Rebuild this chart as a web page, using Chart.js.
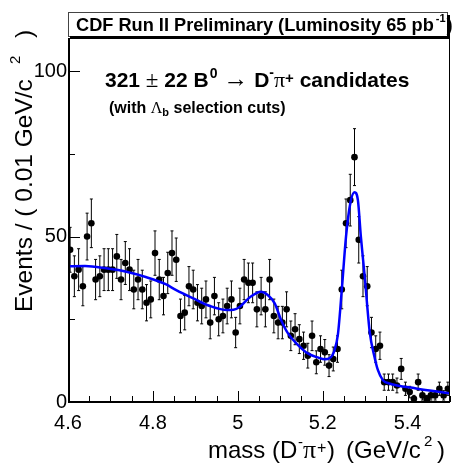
<!DOCTYPE html>
<html>
<head>
<meta charset="utf-8">
<script src="https://cdn.jsdelivr.net/npm/chart.js@4.4.0/dist/chart.umd.min.js"></script>
<style>
  html, body { margin: 0; padding: 0; background: #fff; }
</style>
</head>
<body>
<canvas id="myChart" width="455" height="465"></canvas>
<script>
// D-pi+ invariant mass histogram, 0.01 GeV/c^2 bins from 4.6 to 5.5
const massMin = 4.6;
const massMax = 5.5;
const binWidth = 0.01;
const counts = [
  46, 38, 40, 35, 50, 54, 37, 38, 40, 40,
  40, 44, 37, 42, 40, 34, 37, 34, 30, 31,
  45, 37, 32, 39, 45, 43, 26, 27, 35, 34,
  30, 29, 31, 24, 32, 25, 26, 29, 31, 21,
  29, 37, 36, 36, 28, 32, 28, 37, 26, 24,
  24, 28, 20, 22, 19, 17, 14, 20, 12, 16,
  15, 11, 13, 16, 34, 54, 61, 74, 49, 38,
  35, 21, 16, 17, 6, 6, 6, 5, 10, 4,
  3, 1, 6, 2, 1, 2, 2, 4, 2, 4
];

// fit curve
const fitMass = [4.600, 4.640, 4.690, 4.740, 4.785, 4.830, 4.855, 4.895, 4.935, 4.975,
  4.990, 5.005, 5.030, 5.055, 5.070, 5.087, 5.102, 5.118, 5.142, 5.165,
  5.190, 5.205, 5.216, 5.228, 5.236, 5.245, 5.255, 5.265, 5.275, 5.283,
  5.290, 5.299, 5.311, 5.322, 5.330, 5.342, 5.357, 5.420, 5.500];
const fitEvents = [41.0, 41.1, 40.4, 39.3, 37.7, 35.6, 33.8, 31.3, 29.0, 27.8,
  27.9, 28.8, 31.8, 33.3, 32.4, 29.8, 24.8, 20.8, 17.2, 14.7,
  13.4, 12.9, 13.2, 15.7, 20.5, 33.8, 50.0, 60.0, 63.4, 61.0,
  50.0, 38.0, 21.0, 13.7, 9.7, 6.6, 5.6, 4.1, 2.6];

const xTickLabels = [4.6, 4.8, 5, 5.2, 5.4];
const yTickLabels = [0, 50, 100];

const SANS = '"Liberation Sans", Arial, Helvetica, sans-serif';
const SERIF = '"Liberation Serif", "Times New Roman", serif';

let histPoints = counts.map((n, i) => ({ x: massMin + binWidth * (i + 0.5), y: n }));
let fitPoints = fitMass.map((m, i) => ({ x: m, y: fitEvents[i] }));

// draws a run of text pieces (for super/subscripts), returns end x
// a piece with "at" is placed at that offset from the start instead of after the previous one
function drawParts(ctx, x, y, parts) {
  let cx = x;
  parts.forEach(p => {
    ctx.font = p.font;
    if (p.at !== undefined) cx = x + p.at;
    cx += p.dx || 0;
    ctx.fillText(p.t, cx, y + (p.dy || 0));
    cx += ctx.measureText(p.t).width;
  });
  return cx;
}

const decor = {
  id: 'decor',
  beforeDatasetsDraw(chart) {
    // poisson error bars on the data points
    const ctx = chart.ctx;
    const xs = chart.scales.x, ys = chart.scales.y;
    ctx.save();
    ctx.strokeStyle = '#000';
    ctx.lineWidth = 1;
    histPoints.forEach(p => {
      const err = Math.sqrt(p.y);
      const px = xs.getPixelForValue(p.x);
      const top = ys.getPixelForValue(p.y + err);
      const bot = ys.getPixelForValue(Math.max(p.y - err, 0));
      ctx.beginPath();
      ctx.moveTo(px, top); ctx.lineTo(px, bot);
      ctx.moveTo(px - 1.5, top); ctx.lineTo(px + 1.5, top);
      ctx.moveTo(px - 1.5, bot); ctx.lineTo(px + 1.5, bot);
      ctx.stroke();
    });
    ctx.restore();
  },
  afterDraw(chart) {
    const ctx = chart.ctx;
    const a = chart.chartArea;
    const xs = chart.scales.x, ys = chart.scales.y;
    ctx.save();
    ctx.strokeStyle = '#000';
    ctx.fillStyle = '#000';

    // frame
    ctx.lineWidth = 1;
    ctx.strokeRect(a.left + 0.5, a.top + 0.5, a.right - a.left - 1, a.bottom - a.top - 1);
    ctx.lineWidth = 2;
    ctx.beginPath();
    ctx.moveTo(a.left + 1, a.top); ctx.lineTo(a.left + 1, a.bottom);
    ctx.lineTo(a.right, a.bottom);
    ctx.stroke();

    // inner ticks
    ctx.lineWidth = 1;
    ctx.beginPath();
    for (let v = 4.6; v < 5.5; v += 0.05) {
      const px = Math.round(xs.getPixelForValue(v)) + 0.5;
      const major = Math.abs(v / 0.2 - Math.round(v / 0.2)) < 0.01;
      ctx.moveTo(px, a.bottom); ctx.lineTo(px, a.bottom - (major ? 11 : 6));
    }
    for (let v = 0; v <= 100; v += 25) {
      const py = Math.round(ys.getPixelForValue(v)) + 0.5;
      ctx.moveTo(a.left, py); ctx.lineTo(a.left + (v % 50 === 0 ? 12 : 7), py);
    }
    ctx.stroke();

    // title box with shadow
    ctx.lineWidth = 1;
    ctx.strokeStyle = '#444';
    ctx.strokeRect(68.5, 12.5, 379, 24);
    ctx.fillRect(447, 15, 3, 24);
    ctx.fillRect(70, 36, 380, 3);
    ctx.textBaseline = 'alphabetic';
    drawParts(ctx, 76, 31, [
      { t: 'CDF Run II Preliminary (Luminosity 65 pb', font: 'bold 18.2px ' + SANS },
      { t: '-1', font: 'bold 11px ' + SANS, dx: 2, dy: -9 },
      { t: ')', font: 'bold 18.2px ' + SANS, dx: 1 }
    ]);

    // annotations
    drawParts(ctx, 105, 87, [
      { t: '321 ', font: 'bold 21px ' + SANS },
      { t: '\u00b1', font: '23px ' + SERIF },
      { t: ' 22 B', font: 'bold 21px ' + SANS },
      { t: '0', font: 'bold 14px ' + SANS, dx: 1, dy: -9 },
      { t: ' ', font: 'bold 21px ' + SANS },
      { t: '\u2192', font: '25px ' + SERIF },
      { t: ' D', font: 'bold 21px ' + SANS },
      { t: '-', font: 'bold 14px ' + SANS, dy: -10 },
      { t: '\u03c0', font: '22px ' + SERIF },
      { t: '+', font: 'bold 15px ' + SANS, dy: -4 },
      { t: ' candidates', font: 'bold 21px ' + SANS }
    ]);
    drawParts(ctx, 109, 113, [
      { t: '(with ', font: 'bold 16px ' + SANS },
      { t: '\u039b', font: '16px ' + SERIF },
      { t: 'b', font: 'bold 11px ' + SANS, dy: 3 },
      { t: ' selection cuts)', font: 'bold 16px ' + SANS }
    ]);

    // x axis title
    drawParts(ctx, 208, 458, [
      { t: 'mass (D', font: '24px ' + SANS },
      { t: '-', font: '15px ' + SANS, at: 90, dy: -11 },
      { t: '\u03c0', font: '26px ' + SERIF, at: 95 },
      { t: '+', font: '16px ' + SANS, at: 109, dy: -5 },
      { t: ')', font: '24px ' + SANS, at: 119 },
      { t: '(GeV/c', font: '24px ' + SANS, at: 138 },
      { t: '2', font: '15px ' + SANS, at: 216, dy: -12 },
      { t: ')', font: '24px ' + SANS, at: 229 }
    ]);

    // y axis title, rotated
    ctx.translate(32, 312);
    ctx.rotate(-Math.PI / 2);
    drawParts(ctx, 0, 0, [
      { t: 'Events / ( 0.01 GeV/c', font: '24.5px ' + SANS },
      { t: '2', font: '15px ' + SANS, at: 248, dy: -12 },
      { t: ')', font: '24.5px ' + SANS, at: 274 }
    ]);
    ctx.restore();
  }
};

const myChart = document.getElementById('myChart');
let massChart = new Chart(myChart, {
  type: 'scatter',
  data: {
    datasets: [
      {
        label: 'fit',
        data: fitPoints,
        showLine: true,
        borderColor: '#0000ff',
        borderWidth: 2.5,
        pointRadius: 0,
        cubicInterpolationMode: 'monotone',
        order: 0
      },
      {
        label: 'data',
        data: histPoints,
        showLine: false,
        pointRadius: 3.3,
        pointBackgroundColor: '#000',
        pointBorderWidth: 0,
        order: 1
      }
    ]
  },
  options: {
    responsive: false,
    animation: false,
    devicePixelRatio: 1,
    layout: { padding: { top: 38, right: 5, left: 0, bottom: 0 } },
    plugins: { legend: { display: false }, tooltip: { enabled: false } },
    scales: {
      x: {
        type: 'linear',
        min: massMin,
        max: massMax,
        grid: { display: false, drawTicks: false },
        border: { display: false },
        afterBuildTicks: s => { s.ticks = xTickLabels.map(v => ({ value: v })); },
        afterFit: s => { s.height = 63; },
        ticks: {
          font: { family: SANS, size: 20 },
          color: '#000',
          padding: 9,
          maxRotation: 0,
          autoSkip: false,
          callback: v => String(v)
        }
      },
      y: {
        type: 'linear',
        min: 0,
        max: 110,
        grid: { display: false, drawTicks: false },
        border: { display: false },
        afterBuildTicks: s => { s.ticks = yTickLabels.map(v => ({ value: v })); },
        afterFit: s => { s.width = 68; },
        ticks: {
          font: { family: SANS, size: 20 },
          color: '#000',
          padding: 1,
          callback: v => String(v)
        }
      }
    }
  },
  plugins: [decor]
});
</script>
</body>
</html>
